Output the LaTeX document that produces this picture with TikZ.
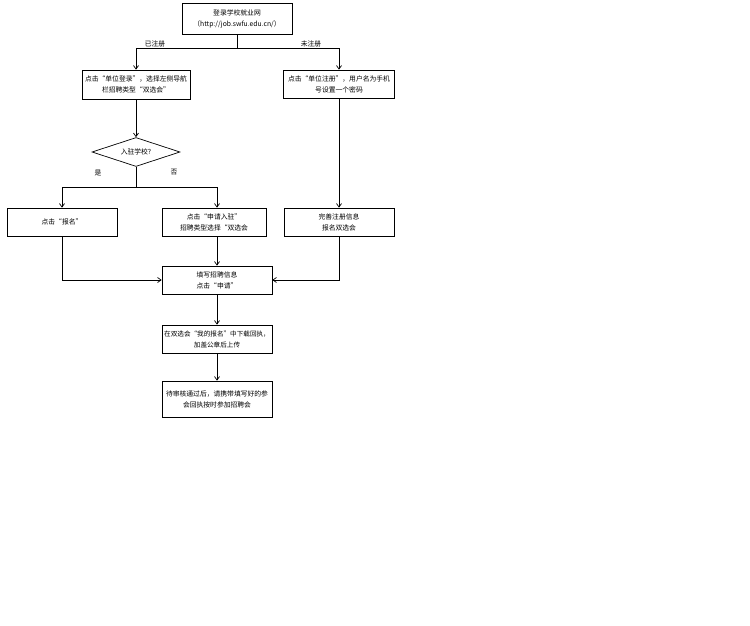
\documentclass[tikz,border=0pt]{standalone}
\usepackage{fontspec}
\setmainfont{Noto Sans CJK SC}
\usepackage{tikz}
\usetikzlibrary{calc,shapes.geometric,arrows.meta}

\begin{document}
\begin{tikzpicture}[x=1pt,y=-1pt, line width=0.7pt, >={Straight Barb[length=3.5pt,width=5pt]},
    every node/.style={font=\fontsize{6.8}{11}\selectfont},
    block/.style={rectangle, draw, align=center, minimum width=110pt, minimum height=28pt, inner sep=1pt},
    decision/.style={diamond, draw, aspect=3, minimum width=88pt, minimum height=29pt, inner sep=0pt},
    tag/.style={inner sep=1pt}]
    \useasboundingbox (0,0) rectangle (750,626);
    % Place nodes
    \node [block, minimum height=31pt] (site) at (237,18.5) {登录学校就业网\\（http://job.swfu.edu.cn/）};
    \node [block, minimum width=108pt, minimum height=29pt] (login) at (136,84.5) {点击“单位登录”，选择左侧导航\\栏招聘类型“双选会”};
    \node [block, minimum width=111pt] (reg) at (339,84) {点击“单位注册”，用户名为手机\\号设置一个密码};
    \node [decision] (enter) at (136,152) {入驻学校?};
    \node [block] (signup) at (62,222) {点击“报名”};
    \node [block, minimum width=104pt] (apply) at (214,222) {点击“申请入驻”\\招聘类型选择“双选会};
    \node [block] (info) at (339,222) {完善注册信息\\报名双选会};
    \node [block] (fill) at (217,280) {填写招聘信息\\点击“申请”};
    \node [block, inner sep=0pt, font=\fontsize{6.6}{11}\selectfont] (upload) at (217,339) {在双选会“我的报名”中下载回执，\\加盖公章后上传};
    \node [block, minimum height=36pt] (wait) at (217,399) {待审核通过后，请携带填写好的参\\会回执按时参加招聘会};

    \coordinate (split1) at (237,48);
    \coordinate (split2) at (136,187);

    % Connectors
    \draw (site) -- (split1);
    \draw [->] (split1) -| (login.north -| enter);
    \draw [->] (split1) -| (reg.north);
    \draw [->] (login.south -| enter) -- (enter);
    \draw (enter) -- (split2);
    \draw [->] (split2) -| (signup.north);
    \draw [->] (split2) -| (apply.north -| fill);
    \draw [->] (reg) -- (info);
    \draw [->] (signup) |- (fill);
    \draw [->] (apply.south -| fill) -- (fill);
    \draw [->] (info) |- (fill);
    \draw [->] (fill) -- (upload);
    \draw [->] (upload) -- (wait);

    % Labels
    \node [tag] (yes1) at (155,44) {已注册};
    \node [tag] (no1) at (311,44) {未注册};
    \node [tag] (yes2) at (98,173) {是};
    \node [tag] (no2) at (174,172) {否};
\end{tikzpicture}
\end{document}
